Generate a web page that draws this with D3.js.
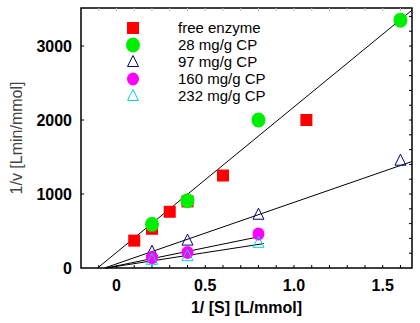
<!DOCTYPE html>
<html>
<head>
<meta charset="utf-8">
<script src="https://cdn.jsdelivr.net/npm/d3@7"></script>
<style>
  body { margin: 0; background: #fff; }
  text { font-family: "Liberation Sans", Arial, sans-serif; }
</style>
</head>
<body>
<svg></svg>
<script>
const margin = {t: 8, r: 8, b: 55, l: 81};
const size = {w: 420, h: 323};

// data
const seriesNames = ['free enzyme', '28 mg/g CP', '97 mg/g CP', '160 mg/g CP', '232 mg/g CP'];
const freeX = [0.1, 0.2, 0.3, 0.4, 0.6, 1.07];
const freeY = [370, 530, 760, 900, 1250, 2000];
const cp28X = [0.2, 0.4, 0.8, 1.6];
const cp28Y = [590, 910, 2000, 3350];
const cp97X = [0.2, 0.4, 0.8, 1.6];
const cp97Y = [220, 370, 720, 1450];
const cp160X = [0.2, 0.4, 0.8];
const cp160Y = [140, 210, 460];
const cp232X = [0.2, 0.4, 0.8];
const cp232Y = [110, 160, 340];

// fitted lines: slope, intercept, end of x range
const fitSlope = [1967, 831, 491, 371];
const fitIntercept = [210, 56, 28.5, 22];
const fitEndX = [1.665, 1.665, 0.83, 0.83];

const xTicks = [0, 0.5, 1.0, 1.5];
const yTicks = [0, 1000, 2000, 3000];

const svg = d3.select('svg')
    .attr('width', size.w)
    .attr('height', size.h);

const x = d3.scaleLinear().domain([-0.2, 1.665]).range([margin.l, size.w - margin.r]);
const y = d3.scaleLinear().domain([0, 3514]).range([size.h - margin.b, margin.t]);

const g = svg.append('g');

// fit lines
fitSlope.forEach(function (m, i) {
    let b = fitIntercept[i];
    let x0 = -b / m;
    let x1 = fitEndX[i];
    let y1 = Math.min(m * x1 + b, y.domain()[1]);
    x1 = (y1 - b) / m;
    g.append('line')
        .attr('x1', x(x0)).attr('y1', y(0))
        .attr('x2', x(x1)).attr('y2', y(y1))
        .attr('stroke', '#000').attr('stroke-width', 1);
});

// marker drawing helpers
function square(sel, cx, cy) {
    sel.append('rect').attr('x', cx - 6).attr('y', cy - 6)
        .attr('width', 12).attr('height', 12).attr('fill', '#ff0000');
}
function circle(color, r) {
    return function (sel, cx, cy) {
        sel.append('ellipse').attr('cx', cx).attr('cy', cy)
            .attr('rx', r).attr('ry', r + 0.5).attr('fill', color);
    };
}
function triangle(color) {
    return function (sel, cx, cy) {
        let s = 5.5;
        sel.append('path')
            .attr('d', `M${cx},${cy - s - 1}L${cx + s},${cy + s - 1}L${cx - s},${cy + s - 1}Z`)
            .attr('fill', 'none').attr('stroke', color).attr('stroke-width', 1);
    };
}

const series = [
    {xs: freeX, ys: freeY, draw: square},
    {xs: cp28X, ys: cp28Y, draw: circle('#00ee00', 7)},
    {xs: cp97X, ys: cp97Y, draw: triangle('#000080')},
    {xs: cp160X, ys: cp160Y, draw: circle('#ff00ff', 6)},
    {xs: cp232X, ys: cp232Y, draw: triangle('#00d8e8')}
];

series.forEach(function (s) {
    s.xs.forEach(function (v, j) {
        s.draw(g, x(v), y(s.ys[j]));
    });
});

// legend
const legend = svg.append('g');
series.forEach(function (s, i) {
    let ly = 28 + i * 17;
    s.draw(legend, 133, ly);
    legend.append('text')
        .attr('x', 178).attr('y', ly + 5)
        .attr('font-size', 15)
        .text(seriesNames[i]);
});

// frame and ticks
const x0 = margin.l, x1 = size.w - margin.r, y0 = size.h - margin.b, y1 = margin.t;
svg.append('rect').attr('x', x0).attr('y', y1)
    .attr('width', x1 - x0).attr('height', y0 - y1)
    .attr('fill', 'none').attr('stroke', '#000').attr('stroke-width', 1.5);

const minorX = d3.range(-0.1, 1.66, 0.1);
minorX.forEach(function (v) {
    svg.append('line').attr('x1', x(v)).attr('x2', x(v))
        .attr('y1', y0).attr('y2', y0 - 3).attr('stroke', '#000');
    svg.append('line').attr('x1', x(v)).attr('x2', x(v))
        .attr('y1', y1).attr('y2', y1 + 3).attr('stroke', '#bbb');
});
d3.range(200, 3500, 200).forEach(function (v) {
    svg.append('line').attr('x1', x1).attr('x2', x1 - 3)
        .attr('y1', y(v)).attr('y2', y(v)).attr('stroke', '#000');
});
yTicks.slice(1).forEach(function (v) {
    svg.append('line').attr('x1', x0).attr('x2', x0 + 3)
        .attr('y1', y(v)).attr('y2', y(v)).attr('stroke', '#000');
});

// tick labels
svg.append('g').selectAll('text').data(xTicks).enter().append('text')
    .attr('x', d => x(d)).attr('y', y0 + 23)
    .attr('text-anchor', 'middle')
    .attr('font-size', 16).attr('font-weight', 'bold')
    .text(d => d === 0 ? '0' : d.toFixed(1));

svg.append('g').selectAll('text').data(yTicks).enter().append('text')
    .attr('x', x0 - 9).attr('y', d => y(d) + 6)
    .attr('text-anchor', 'end')
    .attr('font-size', 16).attr('font-weight', 'bold')
    .text(d => d);

// axis titles
svg.append('text')
    .attr('x', (x0 + x1) / 2).attr('y', y0 + 45)
    .attr('text-anchor', 'middle')
    .attr('font-size', 16).attr('font-weight', 'bold')
    .text('1/ [S] [L/mmol]');

svg.append('text')
    .attr('transform', `translate(22,${(y0 + y1) / 2}) rotate(-90)`)
    .attr('text-anchor', 'middle')
    .attr('font-size', 16).attr('fill', '#444')
    .text('1/v [Lmin/mmol]');
</script>
</body>
</html>
